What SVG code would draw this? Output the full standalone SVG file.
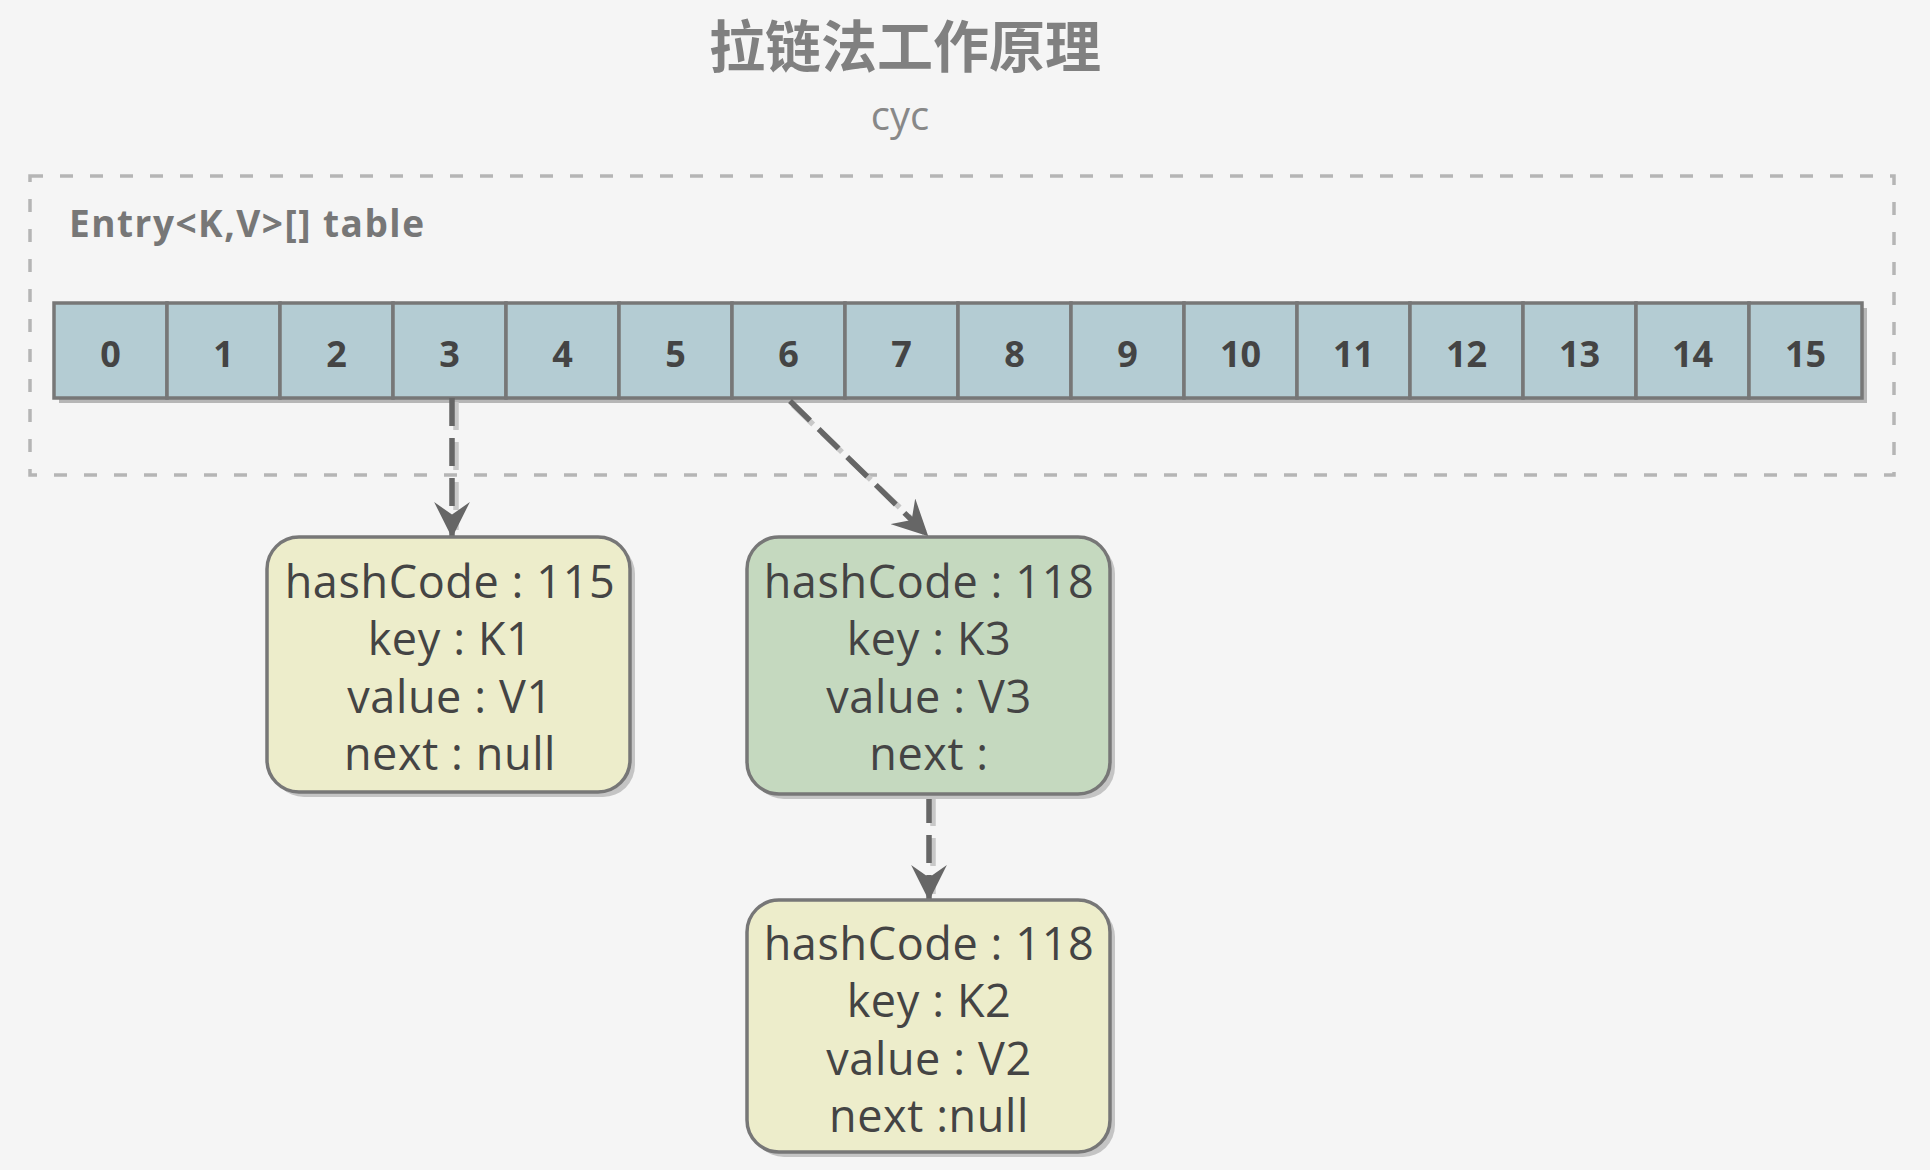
<svg xmlns="http://www.w3.org/2000/svg" width="1930" height="1170" viewBox="0 0 1930 1170">
<style>
.title{font-family:"Open Sans","Noto Sans CJK SC",sans-serif;font-weight:bold;font-size:56px;fill:#808080;text-anchor:middle}
.sub{font-family:"Open Sans",sans-serif;font-size:40px;fill:#888;text-anchor:middle}
.lbl{font-family:"Open Sans",sans-serif;font-weight:bold;font-size:37px;fill:#777;letter-spacing:1.5px}
.cell{fill:#b4ccd3;stroke:#777;stroke-width:3.5}
.cellsh{fill:#b6b6b6}
.num{font-family:"Open Sans",sans-serif;font-weight:bold;font-size:36px;fill:#444;text-anchor:middle}
.nd{stroke:#777;stroke-width:3.5}
.ndsh{fill:#c4c4c4}
.nt{font-family:"Open Sans",sans-serif;font-size:45px;fill:#444;text-anchor:middle;letter-spacing:0.6px}
.frame{fill:none;stroke:#b5b5b5;stroke-width:3.5;stroke-dasharray:13 17}
.edge{fill:none;stroke:#666;stroke-width:5.5;stroke-dasharray:28 12}
.edgesh{fill:none;stroke:#c8c8c8;stroke-width:5.5;stroke-dasharray:28 12}
</style>
<defs>
<marker id="ah" viewBox="0 0 10 10" refX="9.5" refY="5" markerWidth="6.5" markerHeight="6.5" markerUnits="strokeWidth" orient="auto">
<path d="M0,0 L10,5 L0,10 L3.5,5 Z" fill="#666"/>
</marker>
</defs>
<rect width="1930" height="1170" fill="#f5f5f5"/>
<text class="title" x="905" y="67">拉链法工作原理</text>
<text class="sub" x="900" y="130">cyc</text>
<g id="table">
<rect class="frame" x="30" y="176" width="1864" height="299"/>
<text class="lbl" x="69" y="237">Entry&lt;K,V&gt;[] table</text>
<rect class="cellsh" x="59" y="308" width="1808" height="95"/>
<g id="cells">
<rect class="cell" x="54" y="303" width="113" height="95"/><text class="num" x="110.5" y="367">0</text>
<rect class="cell" x="167" y="303" width="113" height="95"/><text class="num" x="223.5" y="367">1</text>
<rect class="cell" x="280" y="303" width="113" height="95"/><text class="num" x="336.5" y="367">2</text>
<rect class="cell" x="393" y="303" width="113" height="95"/><text class="num" x="449.5" y="367">3</text>
<rect class="cell" x="506" y="303" width="113" height="95"/><text class="num" x="562.5" y="367">4</text>
<rect class="cell" x="619" y="303" width="113" height="95"/><text class="num" x="675.5" y="367">5</text>
<rect class="cell" x="732" y="303" width="113" height="95"/><text class="num" x="788.5" y="367">6</text>
<rect class="cell" x="845" y="303" width="113" height="95"/><text class="num" x="901.5" y="367">7</text>
<rect class="cell" x="958" y="303" width="113" height="95"/><text class="num" x="1014.5" y="367">8</text>
<rect class="cell" x="1071" y="303" width="113" height="95"/><text class="num" x="1127.5" y="367">9</text>
<rect class="cell" x="1184" y="303" width="113" height="95"/><text class="num" x="1240.5" y="367">10</text>
<rect class="cell" x="1297" y="303" width="113" height="95"/><text class="num" x="1353.5" y="367">11</text>
<rect class="cell" x="1410" y="303" width="113" height="95"/><text class="num" x="1466.5" y="367">12</text>
<rect class="cell" x="1523" y="303" width="113" height="95"/><text class="num" x="1579.5" y="367">13</text>
<rect class="cell" x="1636" y="303" width="113" height="95"/><text class="num" x="1692.5" y="367">14</text>
<rect class="cell" x="1749" y="303" width="113" height="95"/><text class="num" x="1805.5" y="367">15</text>
</g>
</g>
<g id="connectors">
<path class="edgesh" d="M456,402 L456,530"/>
<path class="edgesh" d="M793,405 L923,530"/>
<path class="edgesh" d="M933,798 L933,894"/>
<path class="edge" d="M452,398 L452,536" marker-end="url(#ah)"/>
<path class="edge" d="M790,401 L927,535" marker-end="url(#ah)"/>
<path class="edge" d="M929,795 L929,899" marker-end="url(#ah)"/>
</g>
<g id="node-k1">
<rect class="ndsh" x="272" y="542" width="363" height="255" rx="32"/>
<rect class="nd" x="267" y="537" width="363" height="255" rx="32" fill="#ededcb"/>
<text class="nt" x="450" y="598">hashCode : 115</text>
<text class="nt" x="450" y="655">key : K1</text>
<text class="nt" x="450" y="713">value : V1</text>
<text class="nt" x="450" y="770">next : null</text>
</g>
<g id="node-k3">
<rect class="ndsh" x="752" y="542" width="363" height="257" rx="32"/>
<rect class="nd" x="747" y="537" width="363" height="257" rx="32" fill="#c5d9bf"/>
<text class="nt" x="929" y="598">hashCode : 118</text>
<text class="nt" x="929" y="655">key : K3</text>
<text class="nt" x="929" y="713">value : V3</text>
<text class="nt" x="929" y="770">next : </text>
</g>
<g id="node-k2">
<rect class="ndsh" x="752" y="905" width="363" height="252" rx="32"/>
<rect class="nd" x="747" y="900" width="363" height="252" rx="32" fill="#ededcb"/>
<text class="nt" x="929" y="960">hashCode : 118</text>
<text class="nt" x="929" y="1017">key : K2</text>
<text class="nt" x="929" y="1075">value : V2</text>
<text class="nt" x="929" y="1132">next :null</text>
</g>
</svg>
